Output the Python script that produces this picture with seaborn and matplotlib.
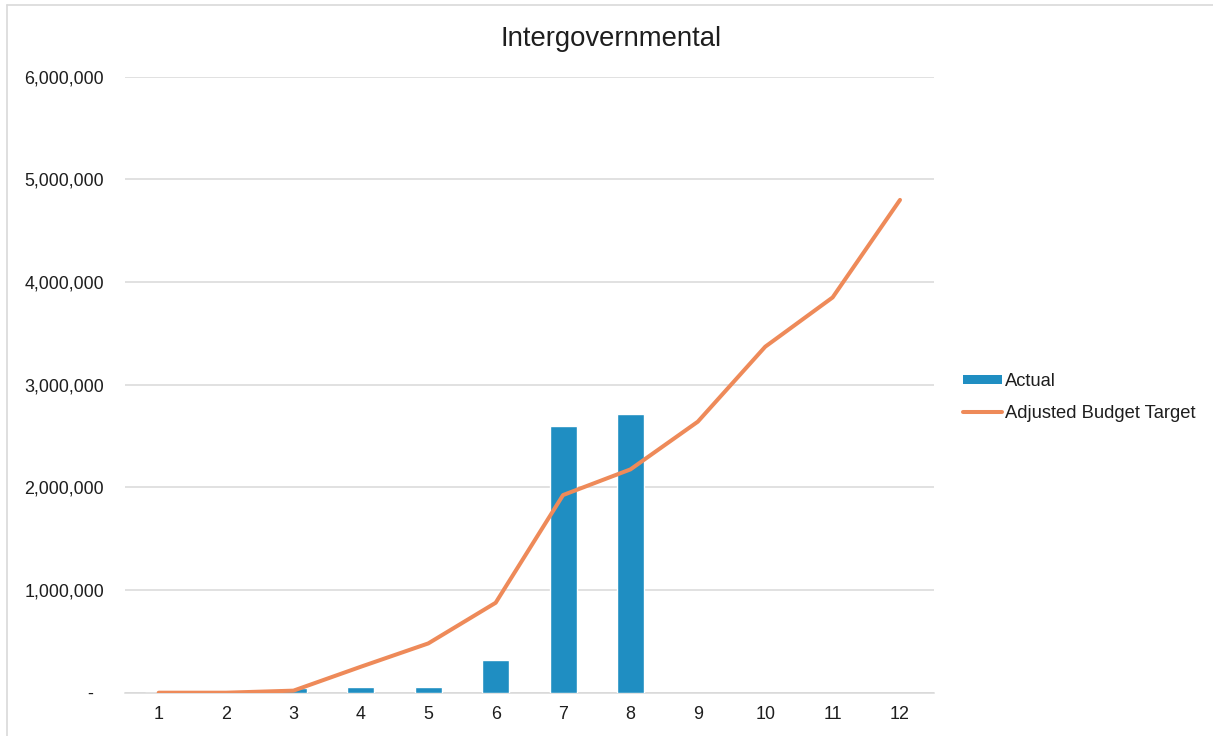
import numpy as np
import pandas as pd
import matplotlib
matplotlib.use("Agg")
import matplotlib.pyplot as plt
import seaborn as sns
from matplotlib.ticker import FuncFormatter, MultipleLocator
from matplotlib.lines import Line2D
from matplotlib.patches import Patch

# ---- data ----
months = [1, 2, 3, 4, 5, 6, 7, 8, 9, 10, 11, 12]
actual = [0, 0, 46000, 55000, 55000, 318000, 2595000, 2715000,
          np.nan, np.nan, np.nan, np.nan]
target = [0, 0, 20000, 253000, 480000, 876000, 1925000, 2175000,
          2640000, 3370000, 3850000, 4800000]
title = "Intergovernmental"
series_names = ["Actual", "Adjusted Budget Target"]

BAR_COLOR = "#1F8EC2"
LINE_COLOR = "#EE8A59"
GRID_COLOR = "#D9D9D9"
TEXT_COLOR = "#1E1E1E"

sns.set_theme(style="white")
plt.rcParams["font.family"] = ["Liberation Sans", "DejaVu Sans"]

W, H, DPI = 1213, 736, 100
fig = plt.figure(figsize=(W / DPI, H / DPI), dpi=DPI)
ax = fig.add_axes([125 / W, 1 - 692.7 / H, (933.7 - 125) / W, (692.7 - 76.7) / H])

df = pd.DataFrame({"month": [str(m) for m in months], "actual": actual,
                   "target": target, "pos": np.arange(len(months))})

sns.barplot(data=df, x="month", y="actual", order=df["month"].tolist(),
            color=BAR_COLOR, saturation=1, width=0.4, ax=ax, errorbar=None,
            zorder=2)
sns.lineplot(data=df, x="pos", y="target", color=LINE_COLOR, linewidth=2.9,
             ax=ax, zorder=3, solid_capstyle="round", solid_joinstyle="round")

ax.set_xlim(-0.5, len(months) - 0.5)
ax.set_ylim(0, 6000000)
ax.yaxis.set_major_locator(MultipleLocator(1000000))
ax.yaxis.set_major_formatter(
    FuncFormatter(lambda v, p: "-  " if abs(v) < 1 else f"{v:,.0f}"))
ax.set_xticks(np.arange(len(months)))
ax.set_xticklabels([str(m) for m in months])
ax.set_xlabel("")
ax.set_ylabel("")

ax.grid(axis="y", color=GRID_COLOR, linewidth=1.1, zorder=0)
ax.grid(axis="x", visible=False)
ax.set_axisbelow(True)
for s in ["top", "right", "left"]:
    ax.spines[s].set_visible(False)
ax.spines["bottom"].set_color(GRID_COLOR)
ax.spines["bottom"].set_linewidth(1.1)
ax.spines["bottom"].set_zorder(1)

ax.tick_params(axis="both", length=0, labelsize=12.9, labelcolor=TEXT_COLOR)
ax.tick_params(axis="x", pad=9.4)
ax.tick_params(axis="y", pad=15)

fig.text(611 / W, 1 - 46 / H, title, ha="center", va="baseline",
         fontsize=19.8, color=TEXT_COLOR)

handles = [Patch(facecolor=BAR_COLOR, edgecolor="none"),
           Line2D([0], [0], color=LINE_COLOR, linewidth=2.9,
                  solid_capstyle="round")]
leg = ax.legend(handles, series_names, loc="center left",
                bbox_to_anchor=(963 / W, 1 - 397.5 / H),
                bbox_transform=fig.transFigure, frameon=False,
                fontsize=13.2, handlelength=2.1, handleheight=0.35,
                handletextpad=0.2, labelspacing=0.8, borderpad=0,
                borderaxespad=0)
for t in leg.get_texts():
    t.set_color(TEXT_COLOR)

# partial outer chart border (top and left visible in the crop)
fig.add_artist(Line2D([6.7 / W, 6.7 / W], [0, 1 - 5.3 / H],
                      transform=fig.transFigure, color=GRID_COLOR,
                      linewidth=1.2))
fig.add_artist(Line2D([6.7 / W, 1], [1 - 5.3 / H, 1 - 5.3 / H],
                      transform=fig.transFigure, color=GRID_COLOR,
                      linewidth=1.2))

fig.savefig("out.png", dpi=DPI, facecolor="white")
